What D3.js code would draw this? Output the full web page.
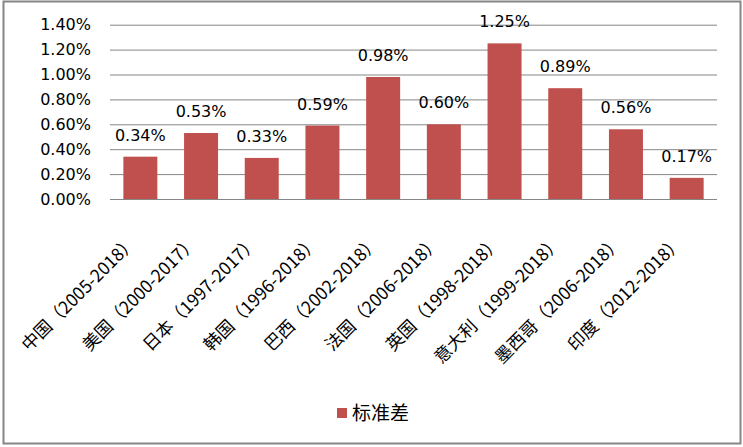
<!DOCTYPE html>
<html><head><meta charset="utf-8">
<script src="https://cdn.jsdelivr.net/npm/d3@7"></script>
<style>body{margin:0;background:#fff}svg{display:block}</style>
</head><body>
<script>
const categories = ["中国（2005-2018）","美国（2000-2017）","日本（1997-2017）","韩国（1996-2018）","巴西（2002-2018）","法国（2006-2018）","英国（1998-2018）","意大利（1999-2018）","墨西哥（2006-2018）","印度（2012-2018）"];
const values = [0.0034,0.0053,0.0033,0.0059,0.0098,0.0060,0.0125,0.0089,0.0056,0.0017];
const yTicks = [0,0.002,0.004,0.006,0.008,0.010,0.012,0.014];
const seriesName = "标准差";

(function(){
const W=743,H=447;
const svg=d3.select("body").append("svg").attr("width",W).attr("height",H);
svg.append("rect").attr("x",3.5).attr("y",1.5).attr("width",737).attr("height",442)
  .attr("fill","#fff").attr("stroke","#868686").attr("stroke-width",2);

const pLeft=110,pRight=717,pTop=24.7,pBottom=199;
const x=d3.scaleBand().domain(categories).range([pLeft,pRight]).paddingInner(0.44).paddingOuter(0.22);
const y=d3.scaleLinear().domain([0,0.014]).range([pBottom,pTop]);

const yAxis=d3.axisLeft(y).tickValues(yTicks).tickFormat(d3.format(".2%")).tickSize(-(pRight-pLeft)).tickPadding(19);
const gy=svg.append("g").attr("transform",`translate(${pLeft},0)`).call(yAxis);
gy.select(".domain").remove();
gy.selectAll(".tick line").attr("stroke","#868686").attr("stroke-width",1);
gy.selectAll(".tick text").attr("font-family","'DejaVu Sans',Verdana,sans-serif").attr("font-size",16).attr("fill","#000");

svg.selectAll("rect.bar").data(values).join("rect").attr("class","bar")
  .attr("x",(d,i)=>x(categories[i])).attr("width",x.bandwidth())
  .attr("y",d=>y(d)).attr("height",d=>pBottom-y(d)).attr("fill","#C0504D");

svg.selectAll("text.lbl").data(values).join("text").attr("class","lbl")
  .attr("x",(d,i)=>x(categories[i])+x.bandwidth()/2).attr("y",d=>y(d)-16)
  .attr("text-anchor","middle").attr("font-family","'DejaVu Sans',Verdana,sans-serif")
  .attr("font-size",16).attr("fill","#000").text(d=>d3.format(".2%")(d));

const xAxis=d3.axisBottom(x).tickSize(0).tickPadding(0);
const gx=svg.append("g").attr("transform",`translate(0,${pBottom})`).call(xAxis);
gx.select(".domain").remove();
gx.selectAll(".tick text").attr("font-family","'Noto Sans CJK SC',sans-serif").attr("font-size",17.5).attr("fill","#000")
  .attr("text-anchor","end").attr("dy","0.35em").attr("y",0).attr("transform","translate(-7,40) rotate(-45)");

const lg=svg.append("g");
lg.append("rect").attr("x",337).attr("y",408).attr("width",10).attr("height",10).attr("fill","#C0504D");
lg.append("text").attr("x",352).attr("y",420).attr("font-family","'Noto Sans CJK SC',sans-serif").attr("font-size",19).attr("fill","#000").text(seriesName);
})();
</script>
</body></html>
